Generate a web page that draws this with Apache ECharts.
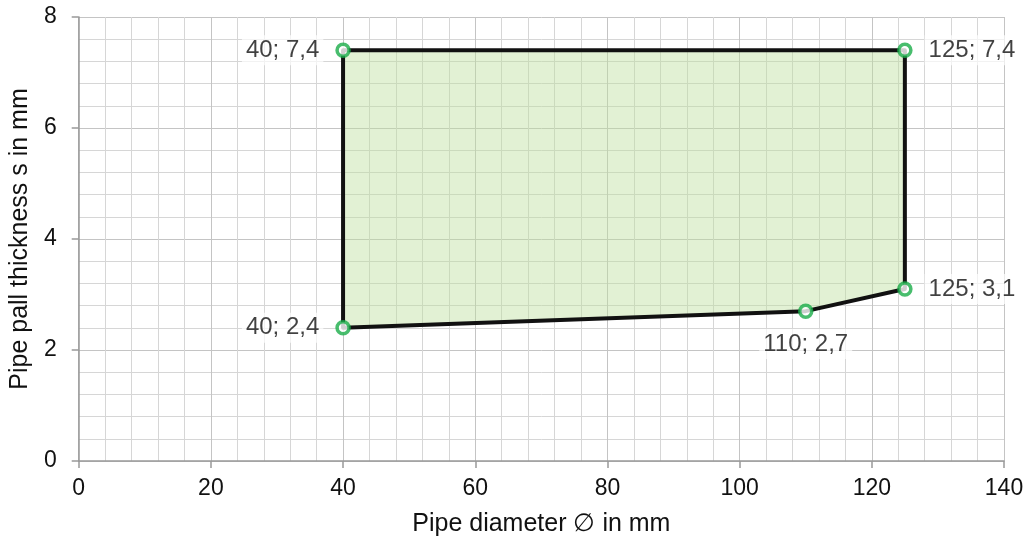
<!DOCTYPE html>
<html><head><meta charset="utf-8">
<script src="https://cdn.jsdelivr.net/npm/echarts@6/dist/echarts.min.js"></script>
<style>html,body{margin:0;padding:0;background:#fff}#c{width:1028px;height:544px}</style>
</head><body><div id="c"></div>
<script>
const diameters = [40, 40, 125, 125, 110];
const thickness = [2.4, 7.4, 7.4, 3.1, 2.7];
const labelPos = ['left', 'left', 'right', 'right', 'bottom'];
const xTicks = [0, 20, 40, 60, 80, 100, 120, 140];
const yTicks = [0, 2, 4, 6, 8];

const pts = diameters.map((d, i) => [d, thickness[i]]);
const fmt = v => String(v).replace('.', ',');

const chart = echarts.init(document.getElementById('c'));
const font = '"Liberation Sans", Arial, sans-serif';
chart.setOption({
  animation: false,
  grid: {left: 76, right: 24, top: 17, bottom: 83},
  xAxis: {
    type: 'value', min: xTicks[0], max: xTicks[xTicks.length - 1], interval: 20,
    name: 'Pipe diameter ∅ in mm', nameLocation: 'middle', nameGap: 51,
    nameTextStyle: {fontSize: 25, color: '#111', fontFamily: font},
    axisLine: {show: true, lineStyle: {color: '#999', width: 1.5}},
    axisTick: {show: true, length: 7, lineStyle: {color: '#999', width: 1.5}},
    axisLabel: {fontSize: 23, color: '#111', fontFamily: font, margin: 16},
    splitLine: {lineStyle: {color: '#c4c4c4', width: 1}},
    minorTick: {show: false, splitNumber: 5},
    minorSplitLine: {show: true, lineStyle: {color: '#d6d6d6', width: 1}}
  },
  yAxis: {
    type: 'value', min: yTicks[0], max: yTicks[yTicks.length - 1], interval: 2,
    name: 'Pipe pall thickness s in mm', nameLocation: 'middle', nameGap: 43,
    nameTextStyle: {fontSize: 25, color: '#111', fontFamily: font},
    axisLine: {show: true, lineStyle: {color: '#999', width: 1.5}},
    axisTick: {show: true, length: 7, lineStyle: {color: '#999', width: 1.5}},
    axisLabel: {fontSize: 23, color: '#111', fontFamily: font, margin: 22},
    splitLine: {lineStyle: {color: '#c4c4c4', width: 1}},
    minorTick: {show: false, splitNumber: 5},
    minorSplitLine: {show: true, lineStyle: {color: '#d6d6d6', width: 1}}
  },
  series: [
    {
      type: 'custom',
      silent: true,
      z: 2,
      data: [0],
      renderItem: (params, api) => {
        const points = pts.map(p => api.coord(p));
        return {
          type: 'polygon',
          shape: {points: points},
          style: {fill: 'rgba(190,225,160,0.45)', stroke: '#111', lineWidth: 4, lineJoin: 'round'}
        };
      }
    },
    {
      type: 'scatter',
      z: 5,
      symbol: 'circle',
      symbolSize: 12,
      itemStyle: {color: '#fff', borderColor: '#1aad48', borderWidth: 3.5},
      data: pts.map((p, i) => ({
        value: p,
        label: {
          show: true, position: labelPos[i], distance: labelPos[i] === 'bottom' ? 10 : 12,
          formatter: fmt(p[0]) + '; ' + fmt(p[1]),
          fontSize: 24, color: '#111', fontFamily: font,
          backgroundColor: 'rgba(255,255,255,0.85)', padding: [3, 4]
        }
      }))
    }
  ]
});
</script></body></html>
